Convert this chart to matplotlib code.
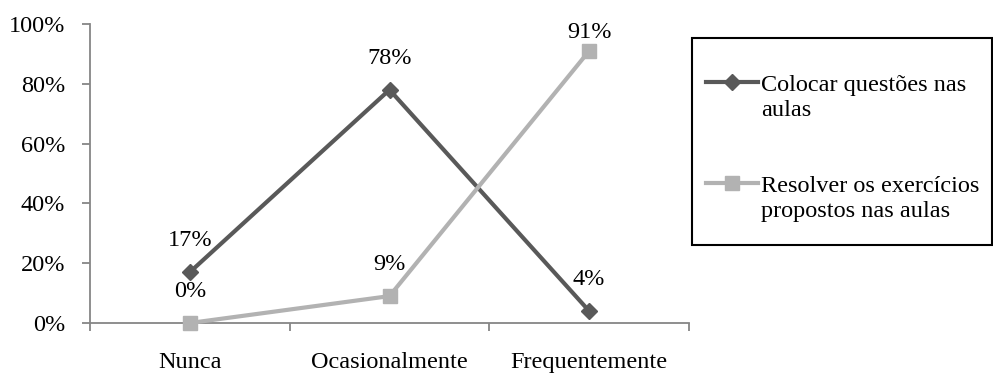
import matplotlib
matplotlib.use("Agg")
import matplotlib.pyplot as plt
from matplotlib.lines import Line2D
from matplotlib.patches import Rectangle
from matplotlib.ticker import FixedLocator

categories = ["Nunca", "Ocasionalmente", "Frequentemente"]
colocar = [17, 78, 4]
resolver = [0, 9, 91]
series_names = ["Colocar questões nas\naulas", "Resolver os exercícios\npropostos nas aulas"]
y_ticks = [0, 20, 40, 60, 80, 100]

plt.rcParams["font.family"] = ["Liberation Serif", "DejaVu Serif"]
FS = 17.5

W, H = 993, 375
fig = plt.figure(figsize=(W / 100, H / 100), dpi=100)
ax = fig.add_axes([90 / W, 1 - 323 / H, 599 / W, 299 / H])

dark = "#595959"
light = "#b2b2b2"
axis_col = "#868686"

x = list(range(len(categories)))
ax.plot(x, colocar, color=dark, lw=3, marker="D", ms=8.5, zorder=3, clip_on=False)
ax.plot(x, resolver, color=light, lw=3, marker="s", ms=10.5, zorder=3, clip_on=False)

ax.set_xlim(-0.5, len(categories) - 0.5)
ax.set_ylim(0, 100)

# value labels above each point, kept inside the plotting area
for vals in (colocar, resolver):
    for xi, v in zip(x, vals):
        ly = min(v + 8.6, 95.3)
        ax.text(xi, ly, f"{v}%", ha="center", va="baseline", fontsize=FS, zorder=4)

for s in ("top", "right"):
    ax.spines[s].set_visible(False)
for s in ("left", "bottom"):
    ax.spines[s].set_color(axis_col)
    ax.spines[s].set_linewidth(1.3)

ax.set_yticks(y_ticks)
ax.set_yticklabels([f"{t}%" for t in y_ticks], fontsize=FS)
ax.tick_params(axis="y", direction="out", length=6, width=1.3, color=axis_col, pad=12)

ax.set_xticks(x)
ax.set_xticklabels(categories, fontsize=FS)
ax.tick_params(axis="x", which="major", length=0, pad=21)
ax.xaxis.set_minor_locator(FixedLocator([i - 0.5 for i in range(len(categories) + 1)]))
ax.tick_params(axis="x", which="minor", direction="out", length=6, width=1.3, color=axis_col)

# legend drawn in figure pixel coordinates
def fx(px):
    return px / W

def fy(py):
    return 1 - py / H

fig.patches.append(Rectangle((fx(692), fy(245)), fx(300), (245 - 38) / H,
                             transform=fig.transFigure, fill=False, ec="black", lw=1.5))

entries = [(series_names[0], dark, "D", 8.5, 82), (series_names[1], light, "s", 10.5, 183)]
for label, col, mk, ms, py in entries:
    fig.lines.append(Line2D([fx(706), fx(758)], [fy(py), fy(py)], transform=fig.transFigure,
                            color=col, lw=3))
    fig.lines.append(Line2D([fx(732)], [fy(py)], transform=fig.transFigure,
                            color=col, marker=mk, ms=ms, lw=0))
    fig.text(fx(761), fy(py - 7), label, fontsize=FS, ha="left", va="top",
             linespacing=1.22, transform=fig.transFigure)

fig.savefig("out.png", dpi=100)
